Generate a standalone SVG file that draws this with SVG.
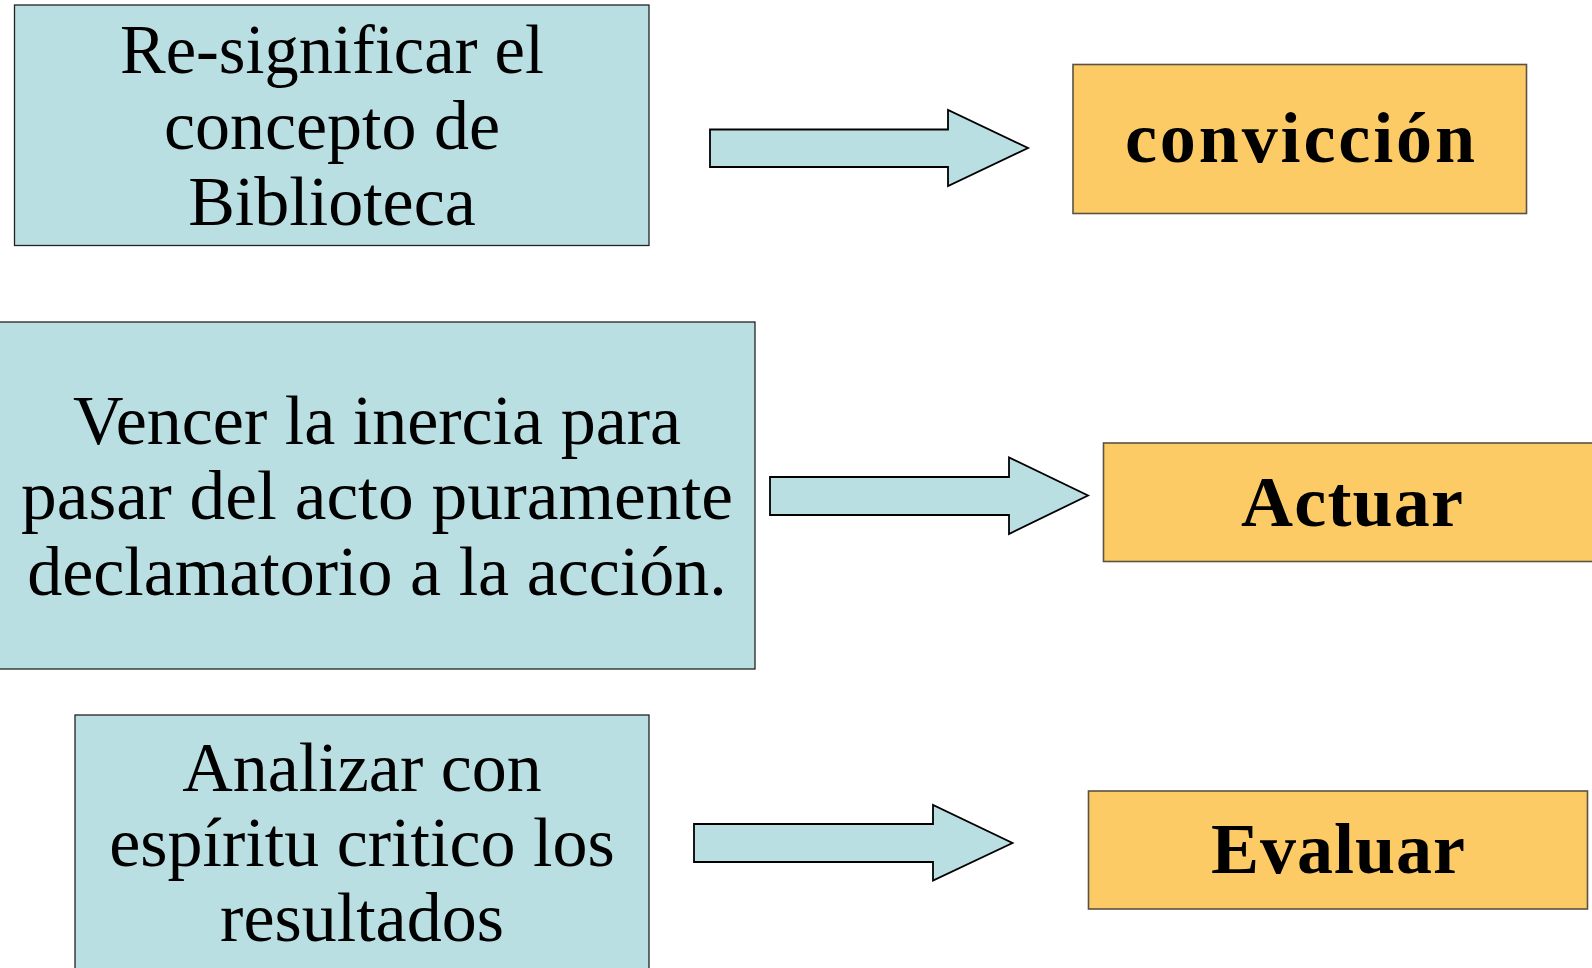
<svg xmlns="http://www.w3.org/2000/svg" width="1592" height="968" viewBox="0 0 1592 968">
<style>
.blue{fill:#BADFE3;stroke:#222;stroke-width:1.3}
.orange{fill:#FDCB65;stroke:#5a5242;stroke-width:1.6}
.arrow{fill:#BADFE3;stroke:#000;stroke-width:1.8;stroke-linejoin:miter}
.t{font-family:"Liberation Serif","Times New Roman",serif;font-size:70px;fill:#000;text-anchor:middle}
.b{font-family:"Liberation Serif","Times New Roman",serif;font-size:72px;font-weight:bold;fill:#000;text-anchor:middle}
</style>
<rect width="1592" height="968" fill="#fff"/>
<g id="node-resignificar">
<rect class="blue" x="14.5" y="5" width="634.5" height="240.5"/>
<text class="t" x="332" y="73" textLength="424" lengthAdjust="spacingAndGlyphs">Re-significar el</text>
<text class="t" x="332" y="149">concepto de</text>
<text class="t" x="332" y="225">Biblioteca</text>
</g>
<g id="node-vencer">
<rect class="blue" x="-1" y="322" width="756" height="347"/>
<text class="t" x="377" y="444">Vencer la inercia para</text>
<text class="t" x="377" y="519" textLength="712" lengthAdjust="spacingAndGlyphs">pasar del acto puramente</text>
<text class="t" x="377" y="595">declamatorio a la acción.</text>
</g>
<g id="node-analizar">
<rect class="blue" x="75" y="715" width="574" height="265"/>
<text class="t" x="362" y="791">Analizar con</text>
<text class="t" x="362" y="866">espíritu critico los</text>
<text class="t" x="362" y="941">resultados</text>
</g>
<g id="node-conviccion">
<rect class="orange" x="1073" y="64.5" width="453.5" height="149"/>
<text class="b" x="1300" y="162" textLength="350" lengthAdjust="spacing">convicción</text>
</g>
<g id="node-actuar">
<rect class="orange" x="1103.5" y="443" width="500" height="118.5"/>
<text class="b" x="1352" y="526" textLength="222" lengthAdjust="spacing">Actuar</text>
</g>
<g id="node-evaluar">
<rect class="orange" x="1088.5" y="791" width="499" height="118"/>
<text class="b" x="1338" y="873" textLength="254" lengthAdjust="spacing">Evaluar</text>
</g>
<g id="connectors">
<polygon class="arrow" points="710,129.5 948,129.5 948,110 1028,148 948,186 948,167 710,167"/>
<polygon class="arrow" points="770,477 1009,477 1009,457.5 1088,495.5 1009,534 1009,515 770,515"/>
<polygon class="arrow" points="694,824 933,824 933,805 1012.5,843 933,880.5 933,862 694,862"/>
</g>
</svg>
